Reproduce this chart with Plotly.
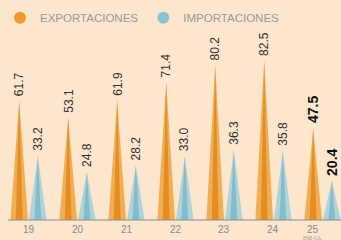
import plotly.graph_objects as go

years = ["19", "20", "21", "22", "23", "24", "25"]
exports = [61.7, 53.1, 61.9, 71.4, 80.2, 82.5, 47.5]
imports = [33.2, 24.8, 28.2, 33.0, 36.3, 35.8, 20.4]
sub_label = "ENE-JUL"

BG = "#FCE6CE"
OR_OUT, OR_IN = "#F2AE52", "#E58D22"
BL_OUT, BL_IN = "#AFD3DA", "#84BCCB"

off = 0.19
w_out = 0.18
w_in = 0.07

fig = go.Figure()

def spikes(centers, vals, w, color):
    xs, ys = [], []
    for c, v in zip(centers, vals):
        xs += [c - w, c, c + w, None]
        ys += [0, v, 0, None]
    fig.add_trace(go.Scatter(x=xs, y=ys, fill="toself", fillcolor=color, mode="lines",
                             line=dict(width=0, color=color), hoverinfo="skip", showlegend=False))

idx = list(range(len(years)))
ox = [i - off for i in idx]
bx = [i + off for i in idx]
spikes(ox, exports, w_out, OR_OUT)
spikes(ox, exports, w_in, OR_IN)
spikes(bx, imports, w_out, BL_OUT)
spikes(bx, imports, w_in, BL_IN)

# legend dummies
fig.add_trace(go.Scatter(x=[None], y=[None], mode="markers", name="EXPORTACIONES",
                         marker=dict(color="#EE9A2E", size=10)))
fig.add_trace(go.Scatter(x=[None], y=[None], mode="markers", name="IMPORTACIONES",
                         marker=dict(color="#8CC3D0", size=10)))

last = len(years) - 1
for i in idx:
    bold = i == last
    for cx, v in ((ox[i], exports[i]), (bx[i], imports[i])):
        fig.add_annotation(x=cx, y=v, text=f"<b>{v:.1f}</b>" if bold else f"{v:.1f}",
                           textangle=-90, showarrow=False, yanchor="bottom", xanchor="center",
                           yshift=3,
                           font=dict(size=14 if bold else 12, color="#111" if bold else "#333",
                                     family="Arial, Liberation Sans, sans-serif"))

for i in idx:
    fig.add_annotation(x=i - (0.2 if i == last else 0), y=0, yref="y", text=years[i],
                       showarrow=False, yanchor="top", yshift=-2,
                       font=dict(size=10, color="#8a8a8a", family="Arial, Liberation Sans, sans-serif"))
fig.add_annotation(x=last - 0.2, y=0, text=sub_label, showarrow=False, yanchor="top", yshift=-13,
                   font=dict(size=5, color="#999"))

fig.add_shape(type="line", xref="x", yref="paper", x0=-0.42, x1=6.5, y0=0, y1=0,
              line=dict(color="#8a8a8a", width=1))
fig.add_shape(type="line", xref="x", yref="y", x0=5.36, x1=5.36, y0=0, y1=-12,
              line=dict(color="#8a8a8a", width=1))

fig.update_layout(
    width=341, height=240,
    margin=dict(l=0, r=0, t=0, b=20),
    paper_bgcolor=BG, plot_bgcolor=BG,
    xaxis=dict(range=[-0.582, 6.378], showgrid=False, zeroline=False, showticklabels=False,
               fixedrange=True),
    yaxis=dict(range=[0, 114], showgrid=False, zeroline=False, showticklabels=False,
               fixedrange=True),
    legend=dict(orientation="h", x=0.0, y=0.985, xanchor="left", yanchor="top",
                bgcolor="rgba(0,0,0,0)", itemsizing="constant",
                font=dict(size=11.5, color="#9a9a9a", family="Arial, Liberation Sans, sans-serif"),
                itemwidth=30, tracegroupgap=0),
    showlegend=True,
)
fig.write_html("out.html", config={"displayModeBar": False},
               post_script="document.body.style.margin='0';document.body.style.background='#FCE6CE';")
